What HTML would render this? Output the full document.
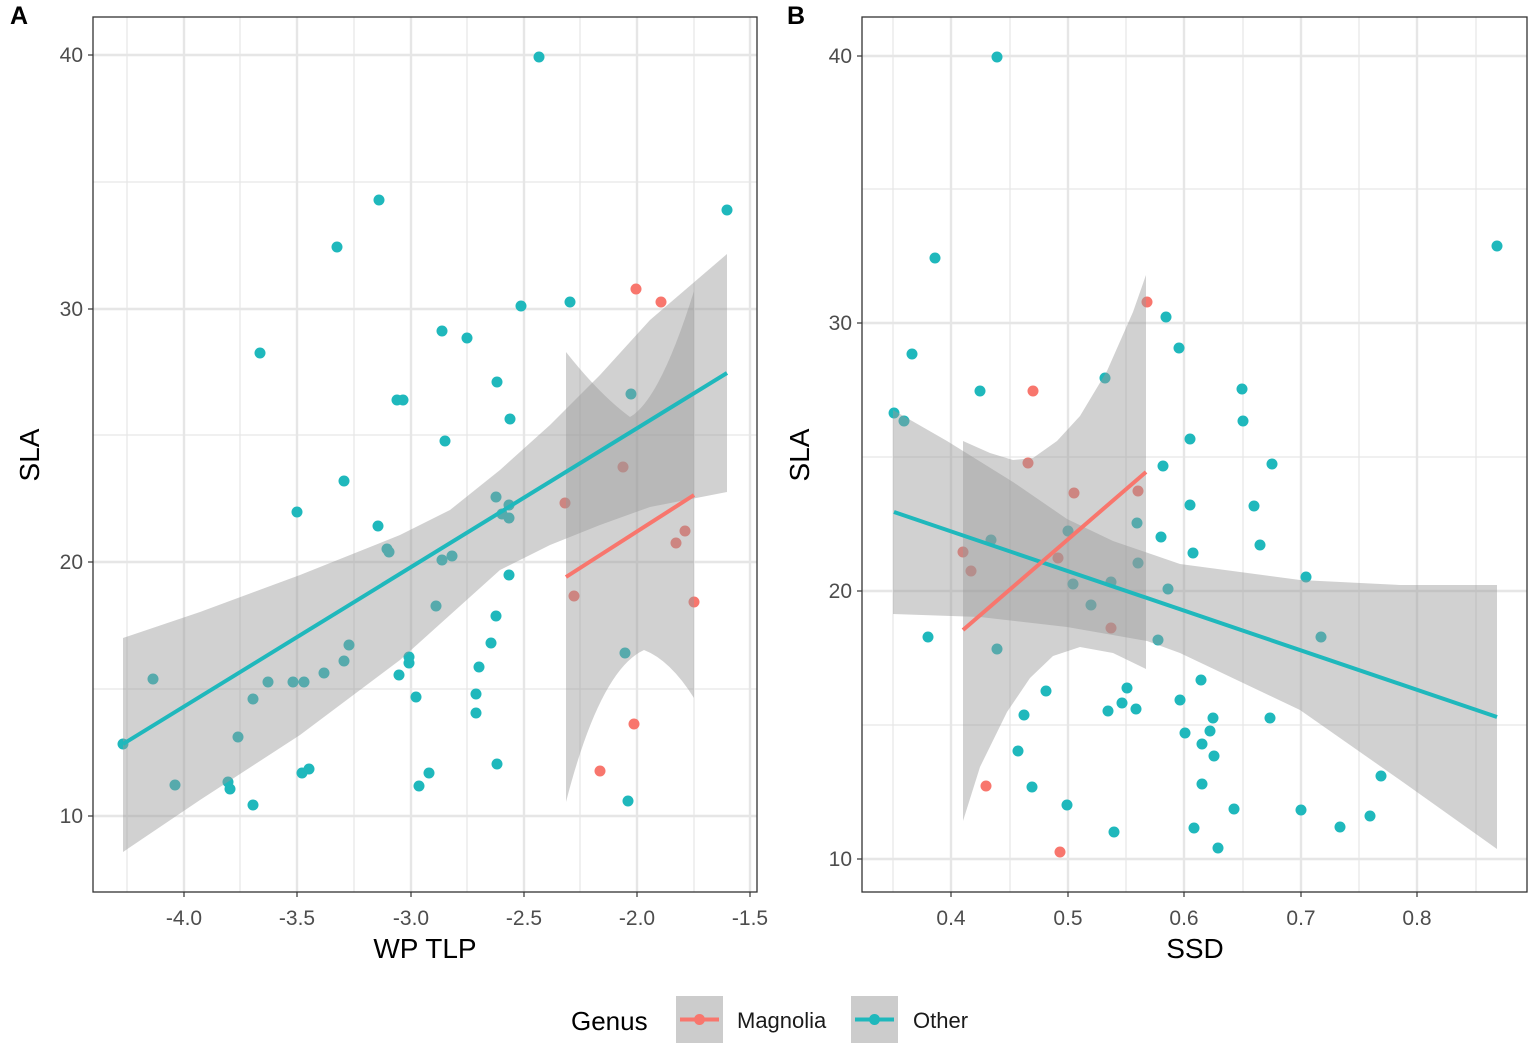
<!DOCTYPE html>
<html><head><meta charset="utf-8"><style>
html,body{margin:0;padding:0;background:#fff;}
svg{display:block;font-family:"Liberation Sans",sans-serif;}
</style></head><body>
<svg width="1535" height="1058" viewBox="0 0 1535 1058" xmlns="http://www.w3.org/2000/svg">
<rect width="1535" height="1058" fill="#fff"/>
<g stroke="#e6e6e6">
 <g stroke-width="1.2">
  <line x1="93" x2="757" y1="182" y2="182"/><line x1="93" x2="757" y1="435" y2="435"/><line x1="93" x2="757" y1="689" y2="689"/>
  <line x1="240" x2="240" y1="17" y2="892"/><line x1="354" x2="354" y1="17" y2="892"/><line x1="467" x2="467" y1="17" y2="892"/><line x1="580" x2="580" y1="17" y2="892"/><line x1="694" x2="694" y1="17" y2="892"/><line x1="127" x2="127" y1="17" y2="892"/>
 </g>
 <g stroke-width="2.4">
  <line x1="93" x2="757" y1="55" y2="55"/><line x1="93" x2="757" y1="309" y2="309"/><line x1="93" x2="757" y1="562" y2="562"/><line x1="93" x2="757" y1="816" y2="816"/>
  <line x1="184" x2="184" y1="17" y2="892"/><line x1="297" x2="297" y1="17" y2="892"/><line x1="411" x2="411" y1="17" y2="892"/><line x1="524" x2="524" y1="17" y2="892"/><line x1="637" x2="637" y1="17" y2="892"/><line x1="750" x2="750" y1="17" y2="892"/>
 </g>
</g>
<g stroke="#e6e6e6">
 <g stroke-width="1.2">
  <line x1="862" x2="1527" y1="189" y2="189"/><line x1="862" x2="1527" y1="457" y2="457"/><line x1="862" x2="1527" y1="725" y2="725"/>
  <line x1="893" x2="893" y1="17" y2="892"/><line x1="1010" x2="1010" y1="17" y2="892"/><line x1="1126" x2="1126" y1="17" y2="892"/><line x1="1243" x2="1243" y1="17" y2="892"/><line x1="1359" x2="1359" y1="17" y2="892"/><line x1="1476" x2="1476" y1="17" y2="892"/>
 </g>
 <g stroke-width="2.4">
  <line x1="862" x2="1527" y1="56" y2="56"/><line x1="862" x2="1527" y1="323" y2="323"/><line x1="862" x2="1527" y1="591" y2="591"/><line x1="862" x2="1527" y1="859" y2="859"/>
  <line x1="951" x2="951" y1="17" y2="892"/><line x1="1068" x2="1068" y1="17" y2="892"/><line x1="1184" x2="1184" y1="17" y2="892"/><line x1="1301" x2="1301" y1="17" y2="892"/><line x1="1417" x2="1417" y1="17" y2="892"/>
 </g>
</g>

<g fill="#1FB8BC">
<circle cx="123" cy="744" r="5.5"/><circle cx="153" cy="679" r="5.5"/><circle cx="175" cy="785" r="5.5"/><circle cx="228" cy="782" r="5.5"/><circle cx="230" cy="789" r="5.5"/><circle cx="238" cy="737" r="5.5"/><circle cx="253" cy="805" r="5.5"/><circle cx="253" cy="699" r="5.5"/><circle cx="260" cy="353" r="5.5"/><circle cx="268" cy="682" r="5.5"/><circle cx="293" cy="682" r="5.5"/><circle cx="297" cy="512" r="5.5"/><circle cx="304" cy="682" r="5.5"/><circle cx="302" cy="773" r="5.5"/><circle cx="309" cy="769" r="5.5"/><circle cx="324" cy="673" r="5.5"/><circle cx="337" cy="247" r="5.5"/><circle cx="344" cy="661" r="5.5"/><circle cx="344" cy="481" r="5.5"/><circle cx="349" cy="645" r="5.5"/><circle cx="379" cy="200" r="5.5"/><circle cx="378" cy="526" r="5.5"/><circle cx="387" cy="549" r="5.5"/><circle cx="389" cy="552" r="5.5"/><circle cx="397" cy="400" r="5.5"/><circle cx="403" cy="400" r="5.5"/><circle cx="399" cy="675" r="5.5"/><circle cx="409" cy="663" r="5.5"/><circle cx="409" cy="657" r="5.5"/><circle cx="416" cy="697" r="5.5"/><circle cx="419" cy="786" r="5.5"/><circle cx="429" cy="773" r="5.5"/><circle cx="436" cy="606" r="5.5"/><circle cx="442" cy="331" r="5.5"/><circle cx="445" cy="441" r="5.5"/><circle cx="442" cy="560" r="5.5"/><circle cx="452" cy="556" r="5.5"/><circle cx="467" cy="338" r="5.5"/><circle cx="476" cy="694" r="5.5"/><circle cx="476" cy="713" r="5.5"/><circle cx="479" cy="667" r="5.5"/><circle cx="491" cy="643" r="5.5"/><circle cx="496" cy="616" r="5.5"/><circle cx="497" cy="382" r="5.5"/><circle cx="496" cy="497" r="5.5"/><circle cx="502" cy="514" r="5.5"/><circle cx="509" cy="505" r="5.5"/><circle cx="509" cy="518" r="5.5"/><circle cx="509" cy="575" r="5.5"/><circle cx="510" cy="419" r="5.5"/><circle cx="497" cy="764" r="5.5"/><circle cx="521" cy="306" r="5.5"/><circle cx="539" cy="57" r="5.5"/><circle cx="570" cy="302" r="5.5"/><circle cx="625" cy="653" r="5.5"/><circle cx="628" cy="801" r="5.5"/><circle cx="631" cy="394" r="5.5"/><circle cx="727" cy="210" r="5.5"/>
</g>
<g fill="#F8766D">
<circle cx="565" cy="503" r="5.5"/><circle cx="574" cy="596" r="5.5"/><circle cx="600" cy="771" r="5.5"/><circle cx="623" cy="467" r="5.5"/><circle cx="634" cy="724" r="5.5"/><circle cx="636" cy="289" r="5.5"/><circle cx="661" cy="302" r="5.5"/><circle cx="676" cy="543" r="5.5"/><circle cx="685" cy="531" r="5.5"/><circle cx="694" cy="602" r="5.5"/>
</g>
<g fill="#999" fill-opacity="0.45">
<path d="M123,638 L200,612 L300,575 L400,535 L450,510 L500,470 L550,425 L600,375 L650,320 L727,254 L727,492 L650,507 L600,525 L550,545 L500,570 L450,615 L400,660 L300,735 L200,800 L123,852 Z"/>
<path d="M566,352 Q600,395 630,417 Q660,400 694,291 L694,698 Q670,660 644,650 Q600,670 566,802 Z"/>
</g>
<line x1="123" y1="744" x2="727" y2="373" stroke="#1FB8BC" stroke-width="4"/>
<line x1="566" y1="577" x2="694" y2="495" stroke="#F8766D" stroke-width="4"/>

<g fill="#1FB8BC">
<circle cx="894" cy="413" r="5.5"/><circle cx="904" cy="421" r="5.5"/><circle cx="912" cy="354" r="5.5"/><circle cx="928" cy="637" r="5.5"/><circle cx="935" cy="258" r="5.5"/><circle cx="980" cy="391" r="5.5"/><circle cx="991" cy="540" r="5.5"/><circle cx="997" cy="57" r="5.5"/><circle cx="997" cy="649" r="5.5"/><circle cx="1018" cy="751" r="5.5"/><circle cx="1024" cy="715" r="5.5"/><circle cx="1032" cy="787" r="5.5"/><circle cx="1046" cy="691" r="5.5"/><circle cx="1067" cy="805" r="5.5"/><circle cx="1068" cy="531" r="5.5"/><circle cx="1073" cy="584" r="5.5"/><circle cx="1091" cy="605" r="5.5"/><circle cx="1105" cy="378" r="5.5"/><circle cx="1108" cy="711" r="5.5"/><circle cx="1111" cy="582" r="5.5"/><circle cx="1114" cy="832" r="5.5"/><circle cx="1122" cy="703" r="5.5"/><circle cx="1127" cy="688" r="5.5"/><circle cx="1136" cy="709" r="5.5"/><circle cx="1137" cy="523" r="5.5"/><circle cx="1138" cy="563" r="5.5"/><circle cx="1158" cy="640" r="5.5"/><circle cx="1161" cy="537" r="5.5"/><circle cx="1163" cy="466" r="5.5"/><circle cx="1168" cy="589" r="5.5"/><circle cx="1166" cy="317" r="5.5"/><circle cx="1179" cy="348" r="5.5"/><circle cx="1180" cy="700" r="5.5"/><circle cx="1185" cy="733" r="5.5"/><circle cx="1190" cy="439" r="5.5"/><circle cx="1190" cy="505" r="5.5"/><circle cx="1193" cy="553" r="5.5"/><circle cx="1194" cy="828" r="5.5"/><circle cx="1201" cy="680" r="5.5"/><circle cx="1202" cy="784" r="5.5"/><circle cx="1202" cy="744" r="5.5"/><circle cx="1210" cy="731" r="5.5"/><circle cx="1213" cy="718" r="5.5"/><circle cx="1214" cy="756" r="5.5"/><circle cx="1218" cy="848" r="5.5"/><circle cx="1234" cy="809" r="5.5"/><circle cx="1242" cy="389" r="5.5"/><circle cx="1243" cy="421" r="5.5"/><circle cx="1254" cy="506" r="5.5"/><circle cx="1260" cy="545" r="5.5"/><circle cx="1272" cy="464" r="5.5"/><circle cx="1270" cy="718" r="5.5"/><circle cx="1301" cy="810" r="5.5"/><circle cx="1306" cy="577" r="5.5"/><circle cx="1321" cy="637" r="5.5"/><circle cx="1340" cy="827" r="5.5"/><circle cx="1370" cy="816" r="5.5"/><circle cx="1381" cy="776" r="5.5"/><circle cx="1497" cy="246" r="5.5"/>
</g>
<g fill="#F8766D">
<circle cx="963" cy="552" r="5.5"/><circle cx="971" cy="571" r="5.5"/><circle cx="986" cy="786" r="5.5"/><circle cx="1028" cy="463" r="5.5"/><circle cx="1033" cy="391" r="5.5"/><circle cx="1058" cy="558" r="5.5"/><circle cx="1060" cy="852" r="5.5"/><circle cx="1074" cy="493" r="5.5"/><circle cx="1111" cy="628" r="5.5"/><circle cx="1138" cy="491" r="5.5"/><circle cx="1147" cy="302" r="5.5"/>
</g>
<g fill="#999" fill-opacity="0.45">
<path d="M893,410 L947,441 L1013,482 L1067,519 L1113,541 L1180,564 L1300,580 L1400,585 L1497,585 L1497,849 L1400,780 L1300,710 L1180,653 L1147,641 L1067,627 L980,617 L893,614 Z"/>
<path d="M963,441 L990,453 L1013,460 L1033,458 L1057,441 L1080,416 L1107,371 L1133,312 L1146,275 L1146,669 L1113,653 L1080,647 L1053,656 L1030,678 L1007,712 L980,767 L963,821 Z"/>
</g>
<line x1="894" y1="512" x2="1497" y2="717" stroke="#1FB8BC" stroke-width="4"/>
<line x1="963" y1="630" x2="1146" y2="472" stroke="#F8766D" stroke-width="4"/>

<rect x="93" y="17" width="664" height="875" fill="none" stroke="#333" stroke-width="1.3"/>
<rect x="862" y="17" width="665" height="875" fill="none" stroke="#333" stroke-width="1.3"/>

<g stroke="#333" stroke-width="1.2">
<line x1="88" x2="93" y1="55" y2="55"/><line x1="88" x2="93" y1="309" y2="309"/><line x1="88" x2="93" y1="562" y2="562"/><line x1="88" x2="93" y1="816" y2="816"/>
<line x1="184" x2="184" y1="892" y2="897"/><line x1="297" x2="297" y1="892" y2="897"/><line x1="411" x2="411" y1="892" y2="897"/><line x1="524" x2="524" y1="892" y2="897"/><line x1="637" x2="637" y1="892" y2="897"/><line x1="750" x2="750" y1="892" y2="897"/>
<line x1="857" x2="862" y1="56" y2="56"/><line x1="857" x2="862" y1="323" y2="323"/><line x1="857" x2="862" y1="591" y2="591"/><line x1="857" x2="862" y1="859" y2="859"/>
<line x1="951" x2="951" y1="892" y2="897"/><line x1="1068" x2="1068" y1="892" y2="897"/><line x1="1184" x2="1184" y1="892" y2="897"/><line x1="1301" x2="1301" y1="892" y2="897"/><line x1="1417" x2="1417" y1="892" y2="897"/>
</g>
<g fill="#4d4d4d" font-size="21">
<g text-anchor="end">
<text x="83" y="62">40</text><text x="83" y="316">30</text><text x="83" y="569">20</text><text x="83" y="823">10</text>
<text x="852" y="63">40</text><text x="852" y="330">30</text><text x="852" y="598">20</text><text x="852" y="866">10</text>
</g>
<g text-anchor="middle">
<text x="184" y="925">-4.0</text><text x="297" y="925">-3.5</text><text x="411" y="925">-3.0</text><text x="524" y="925">-2.5</text><text x="637" y="925">-2.0</text><text x="750" y="925">-1.5</text>
<text x="951" y="925">0.4</text><text x="1068" y="925">0.5</text><text x="1184" y="925">0.6</text><text x="1301" y="925">0.7</text><text x="1417" y="925">0.8</text>
</g>
</g>
<g fill="#000" font-size="28" text-anchor="middle">
<text x="425" y="958">WP TLP</text>
<text x="1195" y="958">SSD</text>
<text transform="translate(39,455) rotate(-90)">SLA</text>
<text transform="translate(809,455) rotate(-90)">SLA</text>
</g>
<g font-size="25" font-weight="bold" fill="#000">
<text x="10" y="24">A</text><text x="787" y="24">B</text>
</g>

<text x="571" y="1030" font-size="26" fill="#000">Genus</text>
<rect x="676" y="996" width="47" height="47" fill="#cccccc"/>
<line x1="680" x2="719" y1="1019.5" y2="1019.5" stroke="#F8766D" stroke-width="4"/>
<circle cx="699.5" cy="1019.5" r="5.5" fill="#F8766D"/>
<text x="737" y="1028" font-size="22" fill="#1a1a1a">Magnolia</text>
<rect x="851" y="996" width="47" height="47" fill="#cccccc"/>
<line x1="855" x2="894" y1="1019.5" y2="1019.5" stroke="#1FB8BC" stroke-width="4"/>
<circle cx="874.5" cy="1019.5" r="5.5" fill="#1FB8BC"/>
<text x="913" y="1028" font-size="22" fill="#1a1a1a">Other</text>
</svg>
</body></html>
